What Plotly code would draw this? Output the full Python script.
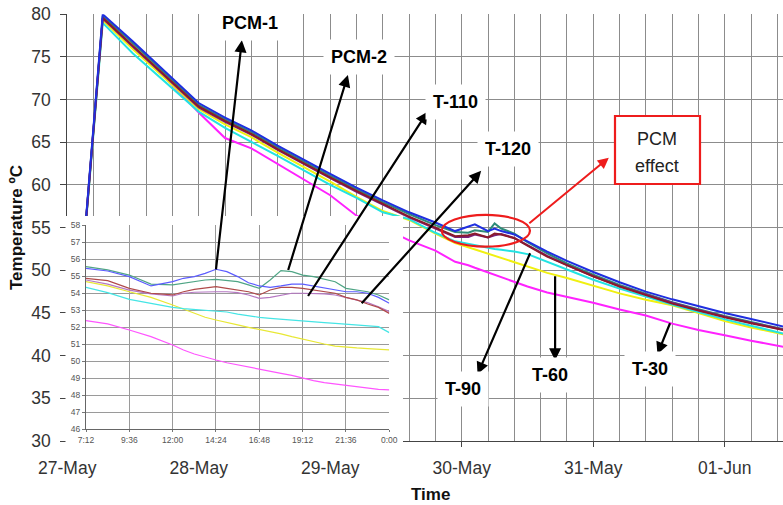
import pandas as pd
import plotly.graph_objects as go

W, H = 783, 505
FONT = "Liberation Sans, Arial, sans-serif"

# ---------------- data ----------------
BASE_DATE = "2008-05-27"
INSET_DATE = "2008-05-29"

SERIES = ["T-30", "T-60", "T-90", "PCM-2", "T-120", "T-110", "PCM-1"]
MAIN_COLORS = ["#ff22ff", "#f0f010", "#22e3e3", "#2e8b78", "#7a1f7a", "#8b1a2b", "#1f2fe0"]
INSET_COLORS = ["#ff55ff", "#e8e835", "#45e5e5", "#4fa585", "#b577c2", "#b04a4a", "#5c5cff"]

# main chart: days since 27-May 00:00
MAIN_DAYS = [0.01, 0.27, 0.5, 0.75, 1.0, 1.2, 1.4, 1.6, 1.8, 2.0, 2.2, 2.4, 2.6, 2.8,
             2.95, 3.05, 3.1, 3.2, 3.25, 3.3, 3.4, 3.5, 3.65, 3.8, 4.0, 4.2, 4.4,
             4.6, 4.8, 5.0, 5.2, 5.445]

T30_MAIN = [31, 79.5, 76.0, 72.5, 68.5, 65.5, 64.3, 62.5, 60.7, 58.8, 56.4, 55.0, 53.5, 52.3,
            51.0, 50.6, 50.3, 49.75, 49.5, 49.2, 48.6, 48.1, 47.4, 46.9, 46.2, 45.4, 44.7,
            43.75, 43.0, 42.4, 41.75, 41.05]
T60_MAIN = [31, 79.3, 75.9, 72.4, 68.9, 67.1, 65.6, 63.8, 62.1, 60.4, 58.6, 56.95, 55.9, 54.3,
            53.2, 52.7, 52.4, 51.95, 51.7, 51.45, 50.95, 50.45, 49.7, 49.1, 48.2, 47.3, 46.55,
            45.9, 45.0, 44.05, 43.3, 42.5]
T90_MAIN = [31, 79.0, 75.4, 72.0, 68.6, 66.7, 65.1, 63.4, 61.7, 60.0, 58.5, 56.8, 56.0, 54.4,
            53.4, 53.1, 52.9, 52.65, 52.5, 52.4, 52.2, 51.9, 51.0, 50.1, 48.9, 47.85, 46.9,
            46.0, 45.1, 44.25, 43.5, 42.6]
PCM2_MAIN = [31, 79.8, 76.6, 73.0, 69.4, 67.7, 66.2, 64.4, 62.7, 61.1, 59.5, 58.0, 56.6, 55.3,
             54.5, 54.4, 54.7, 54.5, 55.5, 54.9, 54.3, 53.3, 52.0, 50.8, 49.5, 48.3, 47.25,
             46.25, 45.45, 44.65, 43.95, 43.1]
T120_MAIN = [31, 79.5, 76.2, 72.6, 69.1, 67.4, 65.9, 64.1, 62.4, 60.8, 59.2, 57.7, 56.2, 54.9,
             53.9, 53.9, 54.2, 53.85, 54.1, 54.25, 53.8, 52.95, 51.7, 50.6, 49.3, 48.15, 47.15,
             46.2, 45.35, 44.55, 43.85, 43.05]
T110_MAIN = [31, 79.6, 76.3, 72.7, 69.2, 67.5, 66.0, 64.2, 62.5, 60.9, 59.3, 57.8, 56.3, 55.0,
             54.0, 54.1, 54.3, 53.85, 54.3, 54.2, 53.76, 52.9, 51.6, 50.6, 49.3, 48.1, 47.1,
             46.1, 45.3, 44.5, 43.8, 43.0]
PCM1_MAIN = [31, 80.0, 76.8, 73.2, 69.6, 67.9, 66.4, 64.6, 62.9, 61.3, 59.7, 58.2, 56.8, 55.6,
             54.6, 55.1, 55.4, 54.6, 54.9, 54.6, 54.2, 53.4, 52.2, 51.1, 49.8, 48.6, 47.5,
             46.6, 45.8, 45.0, 44.3, 43.4]

# inset chart: hour of day
INSET_HOURS = [7.2, 8.4, 9.6, 10.8, 12.0, 12.6, 13.2, 13.8, 14.4, 15.0, 15.6, 16.2, 16.8,
               17.4, 18.0, 18.6, 19.2, 19.8, 20.4, 21.0, 21.6, 22.2, 22.8, 23.4, 24.0]
T30_INSET = [52.38, 52.19, 51.83, 51.44, 50.95, 50.66, 50.42, 50.23, 50.07, 49.91, 49.78, 49.64,
             49.52, 49.41, 49.29, 49.17, 49.00, 48.86, 48.74, 48.66, 48.60, 48.51, 48.41, 48.35, 48.31]
T60_INSET = [54.67, 54.42, 54.08, 53.75, 53.30, 53.05, 52.81, 52.58, 52.42, 52.26, 52.13, 51.99,
             51.87, 51.74, 51.60, 51.44, 51.29, 51.15, 51.01, 50.89, 50.82, 50.78, 50.74, 50.70, 50.66]
T90_INSET = [54.34, 54.03, 53.63, 53.40, 53.16, 53.09, 53.05, 53.01, 52.97, 52.89, 52.77, 52.66,
             52.58, 52.52, 52.46, 52.42, 52.38, 52.32, 52.26, 52.22, 52.17, 52.13, 52.11, 52.03, 51.68]
PCM2_INSET = [55.55, 55.36, 55.06, 54.53, 54.48, 54.57, 54.67, 54.77, 54.81, 54.73, 54.67, 54.48,
              54.28, 54.77, 55.32, 55.26, 55.06, 54.97, 54.81, 54.67, 54.28, 54.18, 54.08, 53.89, 53.60]
T120_INSET = [54.77, 54.53, 54.18, 53.95, 53.83, 53.99, 54.05, 54.08, 54.08, 54.08, 54.03, 53.89,
              53.69, 53.75, 53.89, 53.99, 53.99, 53.99, 53.95, 53.89, 53.75, 53.60, 53.44, 53.20, 52.91]
T110_INSET = [54.87, 54.73, 54.28, 53.99, 53.89, 54.08, 54.22, 54.28, 54.38, 54.28, 54.18, 54.08,
              53.89, 54.18, 54.34, 54.34, 54.28, 54.18, 54.08, 53.99, 53.75, 53.60, 53.36, 53.16, 52.81]
PCM1_INSET = [55.45, 55.30, 54.97, 54.42, 54.67, 54.87, 54.97, 55.16, 55.40, 55.26, 54.97, 54.61,
              54.42, 54.34, 54.42, 54.53, 54.53, 54.42, 54.34, 54.22, 54.08, 54.08, 53.99, 53.75, 53.40]

MAIN_VALUES = [T30_MAIN, T60_MAIN, T90_MAIN, PCM2_MAIN, T120_MAIN, T110_MAIN, PCM1_MAIN]
INSET_VALUES = [T30_INSET, T60_INSET, T90_INSET, PCM2_INSET, T120_INSET, T110_INSET, PCM1_INSET]

Y_MAIN_RANGE = [30, 80]
Y_INSET_RANGE = [46, 58]
X_MAIN_END_DAYS = 5.443

# ---------------- helpers ----------------
def day_to_ts(base, d):
    return (pd.Timestamp(base) + pd.Timedelta(days=d)).strftime("%Y-%m-%d %H:%M:%S")

def hour_to_ts(base, h):
    return (pd.Timestamp(base) + pd.Timedelta(hours=h)).strftime("%Y-%m-%d %H:%M:%S")

def px(x):
    return x / W

def py(y):
    return 1 - y / H

main_x = [day_to_ts(BASE_DATE, d) for d in MAIN_DAYS]
inset_x = [hour_to_ts(INSET_DATE, h) for h in INSET_HOURS]

fig = go.Figure()

for name, vals, col in zip(SERIES, MAIN_VALUES, MAIN_COLORS):
    fig.add_trace(go.Scatter(x=main_x, y=vals, mode="lines", name=name,
                             line=dict(color=col, width=2), xaxis="x", yaxis="y",
                             showlegend=False))

# white cover box behind the inset (empty subplot)
fig.add_trace(go.Scatter(x=[], y=[], xaxis="x2", yaxis="y2", showlegend=False))

for name, vals, col in zip(SERIES, INSET_VALUES, INSET_COLORS):
    fig.add_trace(go.Scatter(x=inset_x, y=vals, mode="lines", name=name + " (inset)",
                             line=dict(color=col, width=1.2), xaxis="x3", yaxis="y3",
                             showlegend=False))

GRID = "#8c8c8c"
fig.update_layout(
    template="none",
    width=W, height=H, autosize=False,
    margin=dict(l=0, r=0, t=0, b=0, pad=0, autoexpand=False),
    paper_bgcolor="white", plot_bgcolor="white",
    font=dict(family=FONT, color="#333"),
    xaxis=dict(
        type="date", domain=[px(67.2), 1.0], automargin=False,
        range=[day_to_ts(BASE_DATE, 0), day_to_ts(BASE_DATE, X_MAIN_END_DAYS)],
        tick0=day_to_ts(BASE_DATE, 0), dtick=86400000, tickformat="%d-%b",
        ticks="outside", ticklen=5, tickcolor="#444",
        showline=True, linecolor="#444", linewidth=1,
        showgrid=True, gridcolor=GRID, gridwidth=1, zeroline=False,
        minor=dict(dtick=17280000, showgrid=True, gridcolor=GRID, gridwidth=1, ticks=""),
        tickfont=dict(size=17.5, color="#333", family=FONT),
        ticklabelstandoff=6, anchor="y",
    ),
    yaxis=dict(
        domain=[py(441), py(14.3)], range=Y_MAIN_RANGE, dtick=5, automargin=False,
        ticks="outside", ticklen=6, tickcolor="#444",
        showline=True, linecolor="#444", linewidth=1,
        showgrid=True, gridcolor=GRID, gridwidth=1, zeroline=False,
        tickfont=dict(size=17.5, color="#333", family=FONT),
        ticklabelstandoff=6, anchor="x",
    ),
    xaxis2=dict(domain=[px(65.5), px(403)], visible=False, range=[0, 1], anchor="y2",
                automargin=False),
    yaxis2=dict(domain=[py(453), py(216)], visible=False, range=[0, 1], anchor="x2",
                automargin=False),
    xaxis3=dict(
        type="date", domain=[px(86), px(389.3)], automargin=False,
        range=[hour_to_ts(INSET_DATE, 7.2), hour_to_ts(INSET_DATE, 24)],
        tick0=hour_to_ts(INSET_DATE, 7.2), dtick=8640000, tickformat="%-H:%M",
        ticks="outside", ticklen=2, tickcolor="#777",
        showline=True, linecolor="#666", linewidth=1,
        showgrid=True, gridcolor="#9a9a9a", gridwidth=1, zeroline=False,
        tickfont=dict(size=8.5, color="#555", family=FONT), anchor="y3",
    ),
    yaxis3=dict(
        domain=[py(429.3), py(225)], range=Y_INSET_RANGE, dtick=1, automargin=False,
        ticks="outside", ticklen=3, tickcolor="#777",
        showline=True, linecolor="#666", linewidth=1,
        showgrid=True, gridcolor="#9a9a9a", gridwidth=1, zeroline=False,
        tickfont=dict(size=8.5, color="#555", family=FONT), anchor="x3",
    ),
)

annotations = []
CENTER = dict(xanchor="center", yanchor="middle", xref="paper", yref="paper", showarrow=False)
# axis titles
annotations.append(dict(text="<b>Time</b>", x=px(430), y=py(494),
                        font=dict(size=17, color="#111", family=FONT), **CENTER))
annotations.append(dict(text="<b>Temperature ºC</b>", x=px(17), y=py(228), textangle=-90,
                        font=dict(size=17, color="#111", family=FONT), **CENTER))

# black arrows (tail on a curve, head near label)
ARROWS = [
    ("x3", "y3", hour_to_ts(INSET_DATE, 14.4), 55.40, 26, -230),
    ("x3", "y3", hour_to_ts(INSET_DATE, 18.4), 55.36, 60, -196),
    ("x3", "y3", hour_to_ts(INSET_DATE, 19.5), 53.83, 120, -185),
    ("x3", "y3", hour_to_ts(INSET_DATE, 22.47), 53.40, 120, -133),
    ("x", "y", day_to_ts(BASE_DATE, 3.52), 52.0, -53, 122),
    ("x", "y", day_to_ts(BASE_DATE, 3.71), 49.3, 0, 85),
    ("x", "y", day_to_ts(BASE_DATE, 4.584), 43.8, -13, 32),
]
for xr, yr, xv, yv, ax, ay in ARROWS:
    annotations.append(dict(text=" ", x=xv, y=yv, xref=xr, yref=yr, ax=ax, ay=ay,
                            axref="pixel", ayref="pixel", showarrow=True,
                            arrowside="start", startarrowhead=2, startarrowsize=1.1,
                            arrowwidth=2.2, arrowcolor="#000", font=dict(size=1),
                            borderpad=0, standoff=0, startstandoff=0))

# red arrow to "PCM effect"
annotations.append(dict(text=" ", x=day_to_ts(BASE_DATE, 3.514), y=55.51, xref="x", yref="y",
                        ax=80, ay=-66, axref="pixel", ayref="pixel", showarrow=True,
                        arrowside="start", startarrowhead=2, startarrowsize=1.1,
                        arrowwidth=2, arrowcolor="#ee1c1c", font=dict(size=1), borderpad=0))

LABELS = [("PCM-1", 250, 23), ("PCM-2", 359, 57), ("T-110", 455, 102), ("T-120", 508, 149),
          ("T-90", 463, 389), ("T-60", 550, 375), ("T-30", 650, 369)]
for txt, lx, ly in LABELS:
    annotations.append(dict(text="<b>" + txt + "</b>", x=px(lx), y=py(ly),
                            bgcolor="white", borderpad=7,
                            font=dict(size=18, color="#000", family=FONT), **CENTER))

annotations.append(dict(text="PCM", x=px(657), y=py(139),
                        font=dict(size=18, color="#222", family=FONT), **CENTER))
annotations.append(dict(text="effect", x=px(657), y=py(166),
                        font=dict(size=18, color="#222", family=FONT), **CENTER))

fig.update_layout(annotations=annotations)

shapes = [
    dict(type="circle", xref="x", yref="y",
         x0=day_to_ts(BASE_DATE, 2.848), x1=day_to_ts(BASE_DATE, 3.519), y0=52.77, y1=56.49,
         line=dict(color="#ee1c1c", width=2.2), fillcolor="rgba(0,0,0,0)", layer="above"),
    dict(type="rect", xref="paper", yref="paper", x0=px(615), x1=px(700), y0=py(184), y1=py(116),
         line=dict(color="#ee1c1c", width=2.2), fillcolor="white", layer="above"),
]
fig.update_layout(shapes=shapes)

fig.write_html("out.html")
